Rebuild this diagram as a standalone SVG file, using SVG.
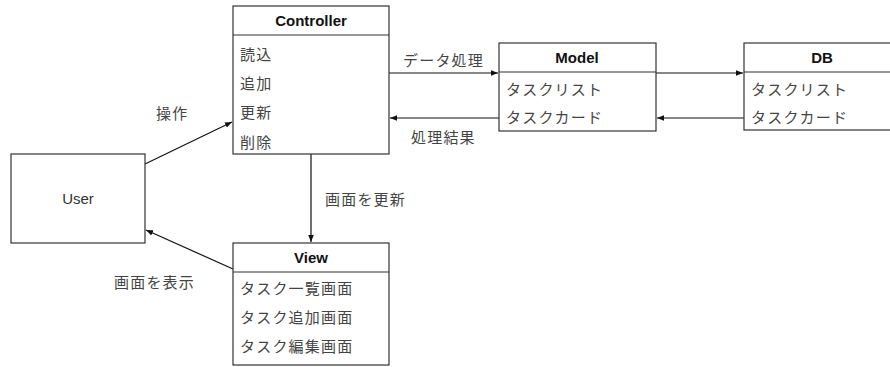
<svg xmlns="http://www.w3.org/2000/svg" width="890" height="367" viewBox="0 0 890 367">
<style>
.box{fill:#fff;stroke:#333;stroke-width:1.2}
.div{stroke:#333;stroke-width:1.2}
.hd{font-family:"Liberation Sans","Noto Sans CJK JP",sans-serif;font-size:15px;font-weight:bold;fill:#111;text-anchor:middle}
.it{font-family:"Noto Sans CJK JP",sans-serif;font-size:15px;fill:#444;letter-spacing:1.2px}
.lb{font-family:"Noto Sans CJK JP",sans-serif;font-size:15px;fill:#444;letter-spacing:1.2px}
.usr{font-family:"Liberation Sans",sans-serif;font-size:15px;fill:#333;text-anchor:middle}
.cn{fill:none;stroke:#111;stroke-width:1.2}
</style>
<defs>
<marker id="ar" viewBox="0 0 10 10" refX="10" refY="5" markerWidth="7" markerHeight="7" orient="auto" markerUnits="userSpaceOnUse">
<path d="M0,1 L10,5 L0,9 Z" fill="#111"/>
</marker>
</defs>
<g id="connectors">
<path class="cn" d="M145,164 L232,122" marker-end="url(#ar)"/>
<path class="cn" d="M389,73 L498,73" marker-end="url(#ar)"/>
<path class="cn" d="M656,73 L743,73" marker-end="url(#ar)"/>
<path class="cn" d="M744,118 L657,118" marker-end="url(#ar)"/>
<path class="cn" d="M499,118 L390,118" marker-end="url(#ar)"/>
<path class="cn" d="M311,154 L311,242" marker-end="url(#ar)"/>
<path class="cn" d="M233,269 L146,230" marker-end="url(#ar)"/>
<text class="lb" x="156" y="119">操作</text>
<text class="lb" x="403" y="66">データ処理</text>
<text class="lb" x="411" y="143">処理結果</text>
<text class="lb" x="325" y="205">画面を更新</text>
<text class="lb" x="114" y="288">画面を表示</text>
</g>
<g id="user">
<rect class="box" x="11" y="154" width="134" height="89"/>
<text class="usr" x="78" y="204">User</text>
</g>
<g id="controller">
<rect class="box" x="233" y="6" width="156" height="148"/>
<line class="div" x1="233" y1="35" x2="389" y2="35"/>
<text class="hd" x="311" y="26">Controller</text>
<text class="it" x="240" y="60">読込</text>
<text class="it" x="240" y="89">追加</text>
<text class="it" x="240" y="118">更新</text>
<text class="it" x="240" y="148">削除</text>
</g>
<g id="model">
<rect class="box" x="499" y="43" width="157" height="88"/>
<line class="div" x1="499" y1="72" x2="656" y2="72"/>
<text class="hd" x="577" y="63">Model</text>
<text class="it" x="506" y="95">タスクリスト</text>
<text class="it" x="506" y="123">タスクカード</text>
</g>
<g id="db">
<rect class="box" x="744" y="43" width="156" height="87"/>
<line class="div" x1="744" y1="72" x2="900" y2="72"/>
<text class="hd" x="822" y="63">DB</text>
<text class="it" x="751" y="95">タスクリスト</text>
<text class="it" x="751" y="123">タスクカード</text>
</g>
<g id="view">
<rect class="box" x="233" y="243" width="156" height="122"/>
<line class="div" x1="233" y1="272" x2="389" y2="272"/>
<text class="hd" x="311" y="263">View</text>
<text class="it" x="240" y="294">タスク一覧画面</text>
<text class="it" x="240" y="323">タスク追加画面</text>
<text class="it" x="240" y="352">タスク編集画面</text>
</g>
</svg>
